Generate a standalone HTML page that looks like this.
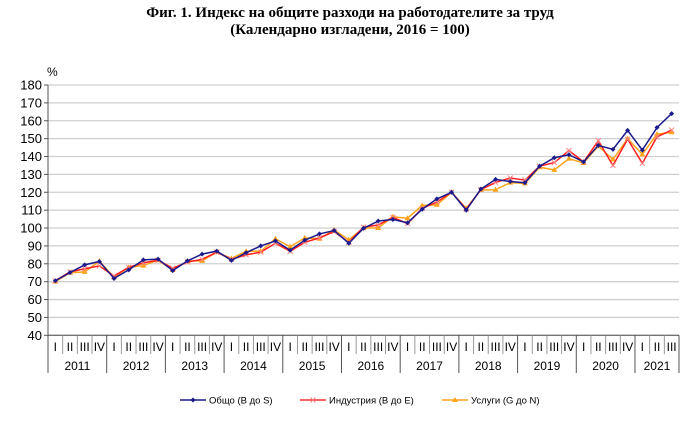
<!DOCTYPE html>
<html><head><meta charset="utf-8"><style>
body{margin:0;background:#fff;width:700px;height:421px;overflow:hidden;font-family:"Liberation Sans",Arial,sans-serif}
.title{position:absolute;left:0;width:700px;text-align:center;font-family:"Liberation Serif",serif;font-weight:bold;font-size:15px;color:#000}
</style></head><body>
<div class="title" style="top:5px">Фиг. 1. Индекс на общите разходи на работодателите за труд</div>
<div class="title" style="top:22px">(Календарно изгладени, 2016 = 100)</div>
<svg id="chart" width="700" height="421" style="position:absolute;left:0;top:0"></svg>
<script>
const years = ["2011","2012","2013","2014","2015","2016","2017","2018","2019","2020","2021"];
const quarterLabels = ["I","II","III","IV"];
const yTicks = [40,50,60,70,80,90,100,110,120,130,140,150,160,170,180];
const totalValues = [70.5,75.1,79.4,81.3, 71.8,76.6,82.2,82.6, 76.2,81.6,85.4,87.1, 81.9,86.2,90.0,92.8, 87.6,93.2,96.7,98.6, 91.5,99.8,103.9,104.8, 102.9,110.5,116.3,120.0, 110.0,121.8,127.2,126.0, 125.3,134.6,139.3,141.0, 137.0,146.2,144.0,154.6, 143.6,156.2,164.0];
const industryValues = [70.5,75.5,77.2,78.8, 73.2,78.0,80.5,82.0, 77.5,81.0,82.5,86.5, 82.5,85.0,86.5,91.5, 87.0,92.0,94.5,98.0, 92.0,100.5,101.7,106.0, 102.5,111.0,114.5,120.0, 110.5,121.5,125.5,128.0, 126.8,134.6,136.6,143.3, 137.0,148.8,135.0,149.7, 136.2,151.0,154.8];
const servicesValues = [70.0,75.0,75.5,81.5, 72.5,78.0,79.0,82.0, 76.5,81.5,81.6,86.5, 83.0,87.0,87.0,94.0, 89.5,94.5,94.0,99.0, 93.4,100.0,100.0,106.3, 105.5,112.6,113.0,120.0, 111.0,121.3,121.4,125.4, 125.0,134.0,132.5,138.8, 136.4,145.8,138.4,150.0, 141.2,152.5,153.6];

const svg=document.getElementById('chart');const NS='http://www.w3.org/2000/svg';
const X0=48,X1=679,Y0=335.3,Y1=85,N=totalValues.length;
const cw=(X1-X0)/N;
function xs(i){return X0+cw*(i+0.5);}
function ys(v){return Y0-(v-40)/(180-40)*(Y0-Y1);}
function mk(t,a,p){const e=document.createElementNS(NS,t);for(const k in a)e.setAttribute(k,a[k]);(p||svg).appendChild(e);return e;}
function marker(type,x,y,color,g){
 if(type==='d')return mk('polygon',{points:`${x},${y-2.5} ${x+2.5},${y} ${x},${y+2.5} ${x-2.5},${y}`,fill:color},g);
 if(type==='x')return mk('path',{d:`M${x-2.5},${y-2.5}L${x+2.5},${y+2.5}M${x-2.5},${y+2.5}L${x+2.5},${y-2.5}`,stroke:'#ff8080','stroke-width':1},g);
 return mk('polygon',{points:`${x},${y-3} ${x+3},${y+2} ${x-3},${y+2}`,fill:color},g);
}
yTicks.forEach(v=>{
 const g=mk('line',{x1:X0,x2:X1,y1:ys(v),y2:ys(v),stroke:'#cfcfcf','stroke-width':1.3});
 
 
 const t=mk('text',{x:42,y:ys(v)+4.5,'text-anchor':'end','font-size':13,fill:'#000'});
 t.textContent=v;
 
 
 const tk=mk('line',{x1:X0-4,x2:X0,y1:ys(v),y2:ys(v),stroke:'#555'});
 
 
});
const pct=mk('text',{x:47,y:76,'font-size':12,fill:'#000'});pct.textContent='%';


const ya=mk('line',{x1:X0,x2:X0,y1:Y1,y2:Y0,stroke:'#555'});


const xa=mk('line',{x1:X0,x2:X1,y1:Y0,y2:Y0,stroke:'#555'});


for(let i=0;i<=N;i++){
 const x=X0+cw*i;const yearSep=(i%4===0)||i===N;
 const l=mk('line',{x1:x,x2:x,y1:Y0,y2:yearSep?373:354,stroke:yearSep?'#555':'#999'});
 
 
}
for(let i=0;i<N;i++){
 const t=mk('text',{x:xs(i),y:351,'text-anchor':'middle','font-size':12,fill:'#000'});
 t.textContent=quarterLabels[i%4];
 
 
}
years.forEach((y,k)=>{
 const s=k*4,e=Math.min(N,s+4);
 const t=mk('text',{x:X0+cw*(s+e)/2,y:370,'text-anchor':'middle','font-size':12,fill:'#000'});
 t.textContent=y;
 
 
});
function series(vals,color,mt,name){
 const g=mk('g',{});
 
 
 mk('polyline',{points:vals.map((v,i)=>xs(i)+','+ys(v)).join(' '),fill:'none',stroke:color,'stroke-width':1.5},g);
 vals.forEach((v,i)=>{
  const m=marker(mt,xs(i),ys(v),color,g);
  
  
 });
}
series(servicesValues,'#ffa31a','t','series-services');
series(industryValues,'#ff2020','x','series-industry');
series(totalValues,'#1a1a8c','d','series-total');
const legend=[['Общо (B до S)','#1a1a8c',180,'d'],['Индустрия (B до E)','#ff3030',300,'x'],['Услуги (G до N)','#ffa31a',442,'t']];
legend.forEach(([lab,c,x,mt])=>{
 const g=mk('g',{});
 
 
 mk('line',{x1:x,x2:x+26,y1:400,y2:400,stroke:c,'stroke-width':1.5},g);
 marker(mt,x+13,400,c,g);
 const t=mk('text',{x:x+29,y:403.5,'font-size':9.5,fill:'#000'},g);t.textContent=lab;
});
</script>
</body></html>
